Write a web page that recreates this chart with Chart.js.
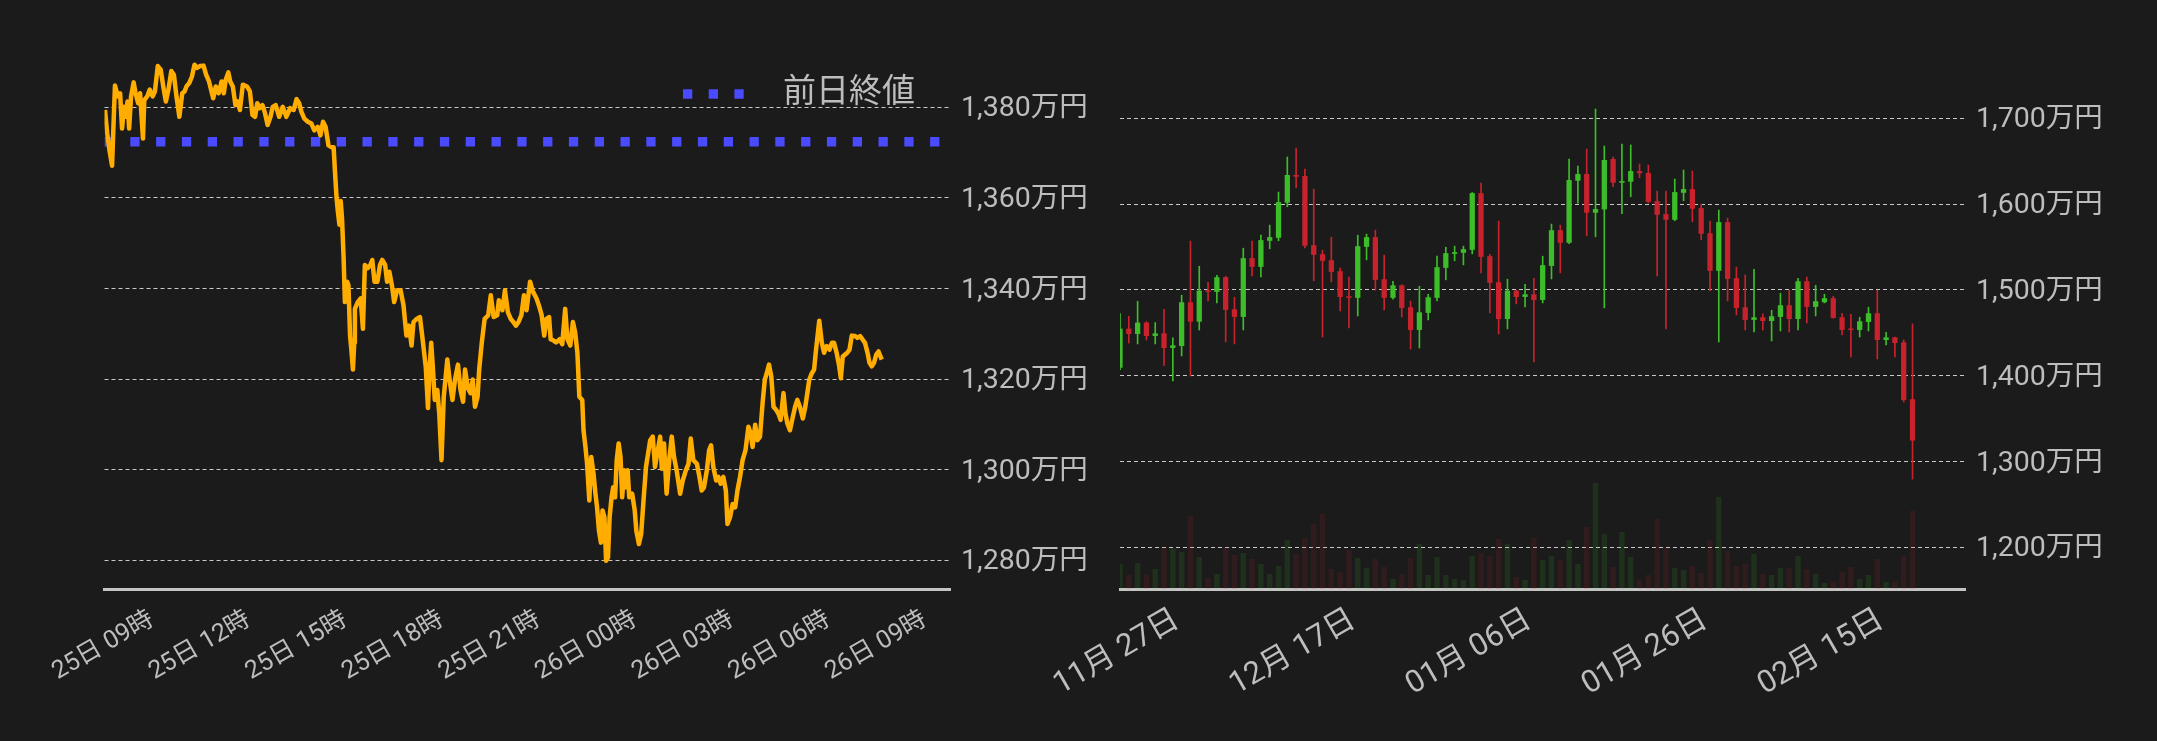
<!DOCTYPE html>
<html lang="ja">
<head>
<meta charset="utf-8">
<title>価格チャート</title>
<script src="https://cdn.jsdelivr.net/npm/chart.js@4.4.1/dist/chart.umd.min.js"></script>
<style>
  html, body { margin: 0; padding: 0; background: #1b1b1b; }
  body { width: 2157px; height: 741px; position: relative; overflow: hidden; }
  #chart-day { position: absolute; left: 0; top: 0; }
  #chart-candle { position: absolute; left: 1000px; top: 0; }
</style>
</head>
<body>
<canvas id="chart-day" width="1100" height="741"></canvas>
<canvas id="chart-candle" width="1157" height="741"></canvas>
<script>
const FONT = 'Roboto, "Noto Sans CJK JP", "Noto Sans", sans-serif';
const TEXT = '#bdbdbd';
const GRID = '#c8c8c8';
const AXIS = '#c4c4c4';
const ORANGE = '#ffad00';
const BLUE = '#4a4aff';
const UP = '#3dbd2a';
const DOWN = '#c8232d';
const UP_VOL = 'rgba(60, 190, 40, 0.13)';
const DOWN_VOL = 'rgba(200, 40, 45, 0.13)';

// 24h chart, x = hours counted from 25日 00:00
const DAY_HOURS = [
  7.54, 7.61, 7.68, 7.76, 7.81, 7.85, 7.94, 8.01, 8.07, 8.13, 8.18, 8.24, 8.29, 8.35, 8.43, 8.49, 8.57, 8.63, 8.72, 8.76,
  8.85, 8.93, 9.02, 9.09, 9.18, 9.27, 9.35, 9.43, 9.51, 9.60, 9.68, 9.76, 9.85, 9.94, 10.01, 10.07, 10.16, 10.24, 10.32, 10.40,
  10.49, 10.60, 10.68, 10.77, 10.90, 10.98, 11.07, 11.16, 11.23, 11.29, 11.37, 11.43, 11.51, 11.59, 11.66, 11.73, 11.82, 11.95, 12.04, 12.12,
  12.20, 12.27, 12.34, 12.43, 12.51, 12.59, 12.68, 12.75, 12.84, 12.95, 13.06, 13.17, 13.29, 13.40, 13.49, 13.57, 13.64, 13.73, 13.84, 13.95,
  14.04, 14.15, 14.23, 14.31, 14.39, 14.48, 14.57, 14.64, 14.68, 14.73, 14.77, 14.82, 14.86, 14.90, 14.95, 14.99, 15.06, 15.10, 15.15, 15.19,
  15.24, 15.28, 15.30, 15.39, 15.48, 15.55, 15.61, 15.70, 15.78, 15.84, 15.91, 16.00, 16.08, 16.15, 16.24, 16.30, 16.37, 16.45, 16.52, 16.61,
  16.72, 16.81, 16.90, 16.98, 17.06, 17.12, 17.22, 17.32, 17.39, 17.44, 17.50, 17.57, 17.61, 17.67, 17.72, 17.78, 17.86, 17.92, 17.99, 18.06,
  18.17, 18.24, 18.33, 18.41, 18.50, 18.58, 18.66, 18.72, 18.81, 18.89, 18.96, 19.03, 19.11, 19.16, 19.24, 19.33, 19.44, 19.52, 19.61, 19.72,
  19.77, 19.88, 19.96, 20.05, 20.14, 20.22, 20.30, 20.38, 20.47, 20.55, 20.63, 20.74, 20.83, 20.94, 21.03, 21.10, 21.18, 21.25, 21.33, 21.38,
  21.47, 21.55, 21.66, 21.74, 21.83, 21.90, 21.99, 22.07, 22.14, 22.21, 22.27, 22.36, 22.40, 22.46, 22.51, 22.58, 22.64, 22.71, 22.77, 22.82,
  22.88, 22.94, 22.99, 23.05, 23.10, 23.16, 23.21, 23.27, 23.32, 23.38, 23.43, 23.49, 23.55, 23.60, 23.66, 23.71, 23.77, 23.82, 23.91, 23.99,
  24.04, 24.12, 24.19, 24.27, 24.34, 24.47, 24.55, 24.62, 24.69, 24.78, 24.83, 24.90, 24.98, 25.07, 25.14, 25.21, 25.29, 25.40, 25.48, 25.58,
  25.66, 25.73, 25.81, 25.92, 26.00, 26.07, 26.14, 26.23, 26.30, 26.36, 26.43, 26.52, 26.59, 26.66, 26.74, 26.82, 26.87, 26.95, 27.03, 27.11,
  27.18, 27.26, 27.34, 27.43, 27.52, 27.59, 27.65, 27.73, 27.80, 27.88, 27.96, 28.03, 28.09, 28.16, 28.23, 28.30, 28.38, 28.45, 28.52, 28.61,
  28.67, 28.73, 28.81, 28.90, 28.97, 29.04, 29.12, 29.21, 29.28, 29.35, 29.41, 29.49, 29.56, 29.62, 29.72, 29.80, 29.87, 29.95, 30.04, 30.11,
  30.18, 30.26, 30.34, 30.39, 30.45, 30.52, 30.59, 30.66, 30.73, 30.83, 30.90, 30.99, 31.07, 31.14, 31.22, 31.28, 31.35, 31.42, 31.49, 31.56,
  31.66,
];
const DAY_PRICES = [
  1379.4, 1374.2, 1370.5, 1367.1, 1377.2, 1384.8, 1382.4, 1383.1, 1375.3, 1380.1, 1377.9, 1381.3, 1375.3, 1382.4, 1385.5, 1383.1, 1380.9, 1383.1, 1373.1, 1381.6,
  1382.4, 1383.9, 1382.4, 1383.5, 1389.1, 1388.3, 1384.6, 1381.3, 1383.9, 1388.0, 1387.2, 1382.4, 1377.9, 1383.1, 1383.5, 1384.6, 1385.4, 1386.8, 1389.4, 1388.7,
  1389.1, 1389.2, 1387.2, 1385.7, 1382.0, 1384.6, 1383.1, 1385.7, 1383.1, 1386.1, 1387.7, 1385.7, 1384.6, 1380.5, 1381.3, 1379.4, 1385.0, 1384.6, 1383.5, 1378.3,
  1377.9, 1380.9, 1379.8, 1380.5, 1378.7, 1376.1, 1377.9, 1380.1, 1380.5, 1377.9, 1380.1, 1377.9, 1379.8, 1379.4, 1381.8, 1380.9, 1379.0, 1377.5, 1376.8, 1376.4,
  1374.9, 1375.7, 1373.8, 1376.8, 1375.7, 1371.6, 1371.2, 1371.2, 1366.0, 1360.1, 1357.1, 1354.1, 1359.3, 1355.6, 1346.7, 1337.0, 1341.5, 1340.7, 1329.6, 1326.5,
  1322.1, 1328.0, 1335.5, 1337.0, 1337.8, 1331.1, 1345.2, 1344.5, 1345.2, 1346.3, 1341.5, 1341.5, 1345.2, 1346.3, 1345.2, 1341.5, 1343.7, 1340.7, 1337.0, 1339.6,
  1339.6, 1336.3, 1329.6, 1331.8, 1327.4, 1332.6, 1333.3, 1333.7, 1329.6, 1326.5, 1322.8, 1313.6, 1321.3, 1328.0, 1322.8, 1315.4, 1317.6, 1312.4, 1302.1, 1316.1,
  1324.3, 1319.9, 1315.4, 1319.9, 1323.2, 1317.6, 1315.0, 1322.1, 1318.0, 1316.9, 1319.9, 1313.9, 1316.1, 1322.1, 1328.0, 1333.3, 1334.1, 1338.5, 1333.7, 1334.1,
  1337.4, 1335.2, 1339.6, 1334.8, 1333.3, 1332.6, 1331.8, 1332.6, 1334.1, 1338.5, 1335.2, 1341.5, 1339.3, 1337.8, 1335.9, 1334.1, 1329.6, 1333.3, 1333.7, 1328.8,
  1328.5, 1328.1, 1328.8, 1327.7, 1335.5, 1328.8, 1327.4, 1332.6, 1330.3, 1325.8, 1316.1, 1315.4, 1308.7, 1305.0, 1301.3, 1293.2, 1302.8, 1299.1, 1294.7, 1291.7,
  1286.5, 1283.9, 1291.0, 1289.5, 1279.9, 1280.6, 1289.5, 1293.9, 1296.1, 1293.9, 1302.1, 1305.8, 1302.8, 1293.9, 1299.9, 1296.1, 1299.9, 1293.9, 1294.7, 1291.0,
  1286.5, 1283.6, 1285.8, 1293.9, 1300.6, 1306.5, 1307.3, 1300.6, 1303.6, 1307.3, 1300.2, 1305.8, 1294.7, 1302.8, 1307.3, 1302.8, 1299.9, 1294.7, 1297.6, 1299.9,
  1301.3, 1306.9, 1302.1, 1301.3, 1298.4, 1295.4, 1296.1, 1299.9, 1304.3, 1305.4, 1300.6, 1297.6, 1298.4, 1296.9, 1298.4, 1295.4, 1288.0, 1289.5, 1292.4, 1291.7,
  1295.4, 1298.4, 1302.1, 1304.3, 1309.5, 1308.0, 1305.0, 1309.9, 1306.5, 1307.3, 1314.7, 1319.9, 1321.3, 1323.2, 1320.6, 1313.9, 1313.2, 1312.4, 1311.0, 1316.9,
  1312.4, 1310.2, 1308.7, 1311.7, 1313.9, 1315.4, 1313.9, 1311.3, 1313.6, 1316.9, 1319.9, 1321.3, 1322.1, 1326.5, 1332.9, 1328.0, 1325.8, 1327.3, 1326.5, 1328.0,
  1328.0, 1325.8, 1322.8, 1320.2, 1325.0, 1325.4, 1325.8, 1326.5, 1329.6, 1329.5, 1329.1, 1329.5, 1328.7, 1328.0, 1325.8, 1323.6, 1322.8, 1323.6, 1325.4, 1326.1,
  1324.3,
];
const PREV_CLOSE = 1372.4;
const DAY_TICK_HOURS = [9, 12, 15, 18, 21, 24, 27, 30, 33];
const DAY_TICK_LABELS = ['25日 09時', '25日 12時', '25日 15時', '25日 18時', '25日 21時', '26日 00時', '26日 03時', '26日 06時', '26日 09時'];
const DAY_X_RANGE = [7.525, 33.78];
const DAY_Y_RANGE = [1273.66, 1392.65];

// daily candles, index 0 = 11月21日
const OPEN = [
  1409.3, 1454.9, 1448.6, 1461.9, 1446.3, 1449.4, 1432.3, 1434.6, 1485.6, 1463.0, 1498.8, 1497.7, 1514.8, 1477.4, 1468.5, 1537.0, 1526.8, 1557.2, 1560.7, 1601.6,
  1633.9, 1632.7, 1552.1, 1541.6, 1534.6, 1521.8, 1492.6, 1490.7, 1550.2, 1561.5, 1512.5, 1490.7, 1505.4, 1479.8, 1453.3, 1473.2, 1490.7, 1525.7, 1542.0, 1543.2,
  1546.7, 1612.8, 1539.3, 1508.9, 1466.1, 1499.2, 1491.8, 1494.9, 1488.3, 1528.0, 1569.6, 1554.9, 1627.2, 1635.0, 1589.9, 1593.8, 1652.5, 1624.9, 1626.1, 1638.5,
  1636.2, 1603.5, 1588.3, 1581.7, 1613.2, 1617.5, 1595.3, 1566.1, 1522.2, 1579.0, 1513.6, 1479.8, 1465.0, 1468.1, 1463.8, 1468.5, 1482.1, 1466.1, 1510.1, 1480.2,
  1485.6, 1490.3, 1468.1, 1454.5, 1453.3, 1462.6, 1472.8, 1441.6, 1444.7, 1438.9, 1372.6,
];
const HIGH = [
  1472.4, 1469.3, 1486.8, 1463.0, 1461.9, 1477.4, 1444.0, 1493.8, 1556.8, 1527.6, 1508.9, 1517.1, 1515.9, 1491.4, 1548.6, 1556.8, 1563.8, 1575.5, 1614.0, 1654.9,
  1665.4, 1640.9, 1617.5, 1546.3, 1561.5, 1525.3, 1514.8, 1563.8, 1565.0, 1569.6, 1540.5, 1510.1, 1506.0, 1486.8, 1504.3, 1494.9, 1539.3, 1549.8, 1551.0, 1551.0,
  1613.5, 1624.5, 1541.6, 1580.2, 1512.5, 1499.6, 1506.6, 1513.6, 1539.3, 1576.7, 1575.5, 1652.5, 1644.4, 1664.2, 1710.9, 1667.7, 1654.9, 1670.0, 1668.9, 1646.7,
  1645.5, 1615.2, 1615.2, 1629.2, 1639.7, 1638.5, 1600.0, 1580.2, 1593.0, 1583.7, 1526.5, 1517.5, 1524.1, 1472.0, 1476.3, 1496.1, 1499.6, 1513.6, 1514.8, 1505.4,
  1494.9, 1492.6, 1472.8, 1471.6, 1468.1, 1479.8, 1499.6, 1450.6, 1444.9, 1441.6, 1460.4,
];
const LOW = [
  1407.0, 1438.1, 1437.0, 1441.6, 1437.0, 1412.1, 1393.8, 1423.0, 1399.6, 1453.3, 1487.2, 1484.8, 1439.3, 1437.0, 1453.3, 1516.3, 1515.2, 1547.9, 1557.2, 1596.9,
  1619.1, 1549.0, 1510.5, 1445.1, 1509.3, 1475.5, 1455.6, 1469.6, 1535.0, 1499.6, 1476.7, 1489.1, 1468.5, 1431.1, 1432.3, 1465.0, 1487.2, 1511.7, 1533.9, 1529.2,
  1542.0, 1519.8, 1473.2, 1448.6, 1454.5, 1483.7, 1480.2, 1416.0, 1484.8, 1512.8, 1519.8, 1554.0, 1601.2, 1563.0, 1561.9, 1479.0, 1620.2, 1588.7, 1608.6, 1630.7,
  1601.6, 1516.3, 1454.5, 1580.5, 1603.9, 1579.4, 1558.4, 1498.8, 1439.3, 1487.2, 1470.8, 1453.3, 1450.9, 1453.3, 1440.5, 1452.1, 1450.9, 1453.3, 1461.5, 1469.6,
  1484.8, 1467.0, 1447.5, 1421.8, 1445.1, 1452.1, 1419.5, 1435.8, 1421.8, 1369.3, 1279.4,
];
const CLOSE = [
  1454.9, 1448.6, 1461.9, 1446.3, 1449.4, 1432.3, 1435.4, 1485.6, 1463.0, 1499.2, 1497.7, 1514.8, 1476.7, 1468.5, 1537.0, 1526.8, 1558.0, 1561.5, 1602.3, 1633.9,
  1631.9, 1551.4, 1540.9, 1533.9, 1521.0, 1491.8, 1490.7, 1551.0, 1561.5, 1511.7, 1490.7, 1505.4, 1479.0, 1453.3, 1473.9, 1491.4, 1526.5, 1542.8, 1544.0, 1547.5,
  1612.8, 1538.5, 1508.2, 1466.1, 1499.2, 1491.8, 1494.9, 1488.3, 1528.8, 1569.6, 1554.9, 1628.0, 1635.0, 1589.9, 1594.2, 1651.4, 1624.9, 1626.8, 1638.5, 1635.8,
  1602.7, 1587.5, 1581.7, 1614.0, 1617.5, 1594.6, 1565.4, 1522.2, 1579.0, 1512.8, 1479.0, 1465.0, 1468.1, 1463.8, 1469.3, 1482.1, 1466.1, 1510.1, 1480.2, 1486.8,
  1490.3, 1467.3, 1453.3, 1453.3, 1463.4, 1472.8, 1441.6, 1444.7, 1438.1, 1371.6, 1324.4,
];
const VOLUME = [
  75, 42, 78, 42, 60, 126, 122, 111, 219, 96, 33, 45, 126, 102, 108, 90, 75, 45, 69, 147,
  105, 153, 194, 225, 60, 51, 117, 93, 63, 90, 66, 30, 45, 93, 135, 42, 96, 42, 30, 27,
  99, 108, 99, 150, 135, 36, 27, 153, 87, 99, 87, 147, 75, 186, 318, 165, 66, 171, 96, 27,
  42, 210, 123, 63, 57, 69, 48, 147, 276, 114, 69, 75, 105, 45, 42, 63, 63, 99, 60, 45,
  18, 21, 51, 66, 30, 42, 90, 21, 21, 99, 234,
];
const CANDLE_TICK_DAYS = [6, 26, 46, 66, 86];
const CANDLE_TICK_LABELS = ['11月 27日', '12月 17日', '01月 06日', '01月 26日', '02月 15日'];
const CANDLE_X_RANGE = [0, 95.96];
const CANDLE_Y_RANGE = [1151.4, 1779.6];
const VOLUME_MAX = 1617;
const LABEL_NUDGE = 0.5;

const yen = (v) => `${v.toLocaleString('en-US')}万円`;

// legend sits inside the plot, top right
const legendPlace = {
  id: 'legendPlace',
  afterLayout(chart) {
    const lg = chart.legend;
    if (!lg) return;
    const w = lg.width;
    const h = lg.height;
    lg.left = 673;
    lg.right = lg.left + w;
    lg.top = 67.5;
    lg.bottom = lg.top + h;
  },
};

function xTicks(labels, size, padding) {
  return {
    autoSkip: false,
    minRotation: 30,
    maxRotation: 30,
    padding,
    color: TEXT,
    font: { size, family: FONT },
    callback: (value, index) => labels[index],
  };
}

function yTicks(step) {
  return {
    stepSize: step,
    includeBounds: false,
    padding: 11,
    labelOffset: 2,
    color: TEXT,
    font: { size: 28.5, family: FONT },
    callback: yen,
  };
}

function renderDayChart() {
  const canvas = document.getElementById('chart-day');
  const line = DAY_HOURS.map((h, i) => ({ x: h, y: DAY_PRICES[i] }));
  const prev = DAY_X_RANGE.map((h) => ({ x: h, y: PREV_CLOSE }));

  return new Chart(canvas, {
    type: 'line',
    data: {
      datasets: [
        {
          data: line,
          borderColor: ORANGE,
          borderWidth: 4.5,
          borderJoinStyle: 'round',
          pointRadius: 0,
          tension: 0,
        },
        {
          data: prev,
          borderColor: BLUE,
          borderWidth: 9.3,
          borderDash: [9.3, 16.5],
          borderCapStyle: 'butt',
          pointRadius: 0,
        },
      ],
    },
    options: {
      responsive: false,
      animation: false,
      events: [],
      layout: { padding: { left: 104.5, top: 50, right: 0, bottom: 0 } },
      plugins: {
        tooltip: { enabled: false },
        legend: {
          position: 'chartArea',
          align: 'start',
          labels: {
            usePointStyle: true,
            pointStyleWidth: 83.5,
            padding: 10,
            color: TEXT,
            font: { size: 33, family: FONT },
            generateLabels: () => [{
              text: '前日終値',
              pointStyle: 'line',
              fillStyle: BLUE,
              strokeStyle: BLUE,
              lineWidth: 9.3,
              lineDash: [9.3, 16.4, 9.3, 16.4, 9.3, 40],
              lineCap: 'butt',
              fontColor: TEXT,
              hidden: false,
              datasetIndex: 1,
            }],
          },
        },
      },
      scales: {
        x: {
          type: 'linear',
          min: DAY_X_RANGE[0],
          max: DAY_X_RANGE[1],
          afterBuildTicks: (scale) => { scale.ticks = DAY_TICK_HOURS.map((v) => ({ value: v })); },
          afterFit: (scale) => { scale.height = 152; },
          grid: { display: false },
          border: { color: AXIS, width: 3 },
          ticks: xTicks(DAY_TICK_LABELS, 25, 8),
        },
        y: {
          position: 'right',
          min: DAY_Y_RANGE[0],
          max: DAY_Y_RANGE[1],
          afterFit: (scale) => { scale.width = 150; },
          grid: { color: GRID, lineWidth: 1, drawTicks: false },
          border: { display: false, dash: [4, 3] },
          ticks: yTicks(20),
        },
      },
    },
    plugins: [legendPlace],
  });
}

function renderCandleChart() {
  const canvas = document.getElementById('chart-candle');
  const days = OPEN.map((_, i) => i);
  const rising = days.map((i) => CLOSE[i] >= OPEN[i]);
  const colors = rising.map((r) => (r ? UP : DOWN));
  const volColors = rising.map((r) => (r ? UP_VOL : DOWN_VOL));

  return new Chart(canvas, {
    type: 'bar',
    data: {
      datasets: [
        {
          data: days.map((i) => ({ x: i, y: [OPEN[i], CLOSE[i]] })),
          backgroundColor: colors,
          grouped: false,
          barPercentage: 0.6,
          categoryPercentage: 1,
          minBarLength: 1.5,
          order: 1,
          yAxisID: 'y',
        },
        {
          data: days.map((i) => ({ x: i, y: [LOW[i], HIGH[i]] })),
          backgroundColor: colors,
          grouped: false,
          barPercentage: 1,
          categoryPercentage: 1,
          maxBarThickness: 1,
          order: 2,
          yAxisID: 'y',
        },
        {
          data: days.map((i) => ({ x: i, y: VOLUME[i] })),
          backgroundColor: volColors,
          grouped: false,
          barPercentage: 0.62,
          categoryPercentage: 1,
          order: 3,
          yAxisID: 'yv',
        },
      ],
    },
    options: {
      responsive: false,
      animation: false,
      events: [],
      layout: { padding: { left: 120, top: 50, right: 0, bottom: 0 } },
      plugins: { legend: { display: false }, tooltip: { enabled: false } },
      scales: {
        x: {
          type: 'linear',
          offset: false,
          min: CANDLE_X_RANGE[0],
          max: CANDLE_X_RANGE[1],
          afterBuildTicks: (scale) => { scale.ticks = CANDLE_TICK_DAYS.map((v) => ({ value: v + LABEL_NUDGE })); },
          afterFit: (scale) => { scale.height = 152; },
          grid: { display: false, offset: false },
          border: { color: AXIS, width: 3 },
          ticks: xTicks(CANDLE_TICK_LABELS, 31, 5),
        },
        y: {
          position: 'right',
          min: CANDLE_Y_RANGE[0],
          max: CANDLE_Y_RANGE[1],
          afterFit: (scale) => { scale.width = 192; },
          grid: { color: GRID, lineWidth: 1, drawTicks: false },
          border: { display: false, dash: [4, 3] },
          ticks: yTicks(100),
        },
        yv: {
          display: false,
          min: 0,
          max: VOLUME_MAX,
        },
      },
    },
  });
}

function init() {
  Chart.defaults.font.family = FONT;
  Chart.defaults.color = TEXT;
  renderDayChart();
  renderCandleChart();
}

init();
</script>
</body>
</html>
